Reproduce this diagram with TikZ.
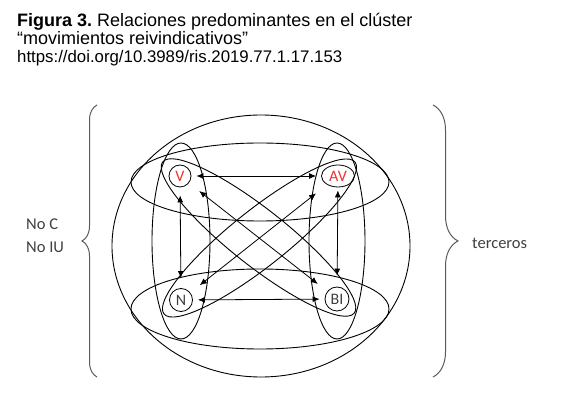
\documentclass[tikz,border=0pt]{standalone}
\usepackage{fontspec}
\setmainfont{Liberation Sans}
\newfontfamily\calfont{Carlito}
\usetikzlibrary{arrows.meta,decorations.pathreplacing,shapes.geometric}
\definecolor{vred}{HTML}{F2302A}
\definecolor{txtgray}{HTML}{404040}
\definecolor{bracegray}{HTML}{5A5A5A}
\frenchspacing
\begin{document}
\begin{tikzpicture}[x=1pt,y=-1pt,
  ell/.style={draw=black, line width=0.9pt},
  member/.style={draw=black, line width=0.8pt, inner sep=0pt, font=\calfont\fontsize{16}{16}\selectfont},
  dual/.style={{Latex[length=7pt,width=6pt]}-{Latex[length=7pt,width=6pt]}, line width=0.8pt},
  title/.style={anchor=base west, inner sep=0pt, font=\fontsize{18}{20}\selectfont},
  side/.style={anchor=base west, inner sep=0pt, text=txtgray, font=\calfont\fontsize{16.5}{18}\selectfont},
  bracestyle/.style={draw=bracegray, line width=1pt, decorate}
]
\useasboundingbox (0,0) rectangle (566,414);

% title
\node[title] (t1) at (17,26.7) {\textbf{Figura 3.} Relaciones predominantes en el clúster};
\node[title] (t2) at (17,45) {“movimientos reivindicativos”};
\node[title, font=\fontsize{16.8}{19}\selectfont] (t3) at (17,62.7) {https://doi.org/10.3989/ris.2019.77.1.17.153};

% group ellipses
\draw[ell] (261,246) ellipse [x radius=149pt, y radius=131pt];
\draw[ell] (260,182) ellipse [x radius=129pt, y radius=39pt];
\draw[ell] (260,309) ellipse [x radius=129pt, y radius=40pt];
\draw[ell] (181,241) ellipse [x radius=29pt, y radius=98pt];
\draw[ell] (337,241) ellipse [x radius=28pt, y radius=98pt];
\draw[ell, rotate around={-38.3:(258.5,237.5)}] (258.5,237.5) ellipse [x radius=122pt, y radius=28pt];
\draw[ell, rotate around={38.5:(259.5,238)}] (259.5,238) ellipse [x radius=122pt, y radius=28pt];

% members
\node[member, circle, minimum size=22pt, text=vred] (V) at (180,176) {V};
\node[member, ellipse, minimum width=33pt, minimum height=22pt, text=vred] (AV) at (338,176) {AV};
\node[member, circle, minimum size=23pt, text=txtgray] (N) at (181,300) {N};
\node[member, circle, minimum size=24pt, text=txtgray] (BI) at (337,299) {BI};

% relations
\draw[dual, shorten <=5pt, shorten >=5pt] (V) -- (AV);
\draw[dual, shorten <=5pt, shorten >=5pt] (N) -- (BI);
\draw[dual, shorten <=8pt, shorten >=10pt] (V) -- (N);
\draw[dual, shorten <=3pt, shorten >=11pt] (AV) -- (BI);
\draw[dual, shorten <=13pt, shorten >=12pt] (V) -- (BI);
\draw[dual, shorten <=14pt, shorten >=12pt] (AV) -- (N);

% braces and labels
\draw[bracestyle, decoration={brace, amplitude=15pt}] (97,377) -- (97,105);
\draw[bracestyle, decoration={brace, amplitude=25pt}] (433,105) -- (433,377);
\node[side] (noc) at (26,230) {No C};
\node[side] (noiu) at (26,253) {No IU};
\node[side] (terc) at (472,248.5) {terceros};
\end{tikzpicture}
\end{document}
